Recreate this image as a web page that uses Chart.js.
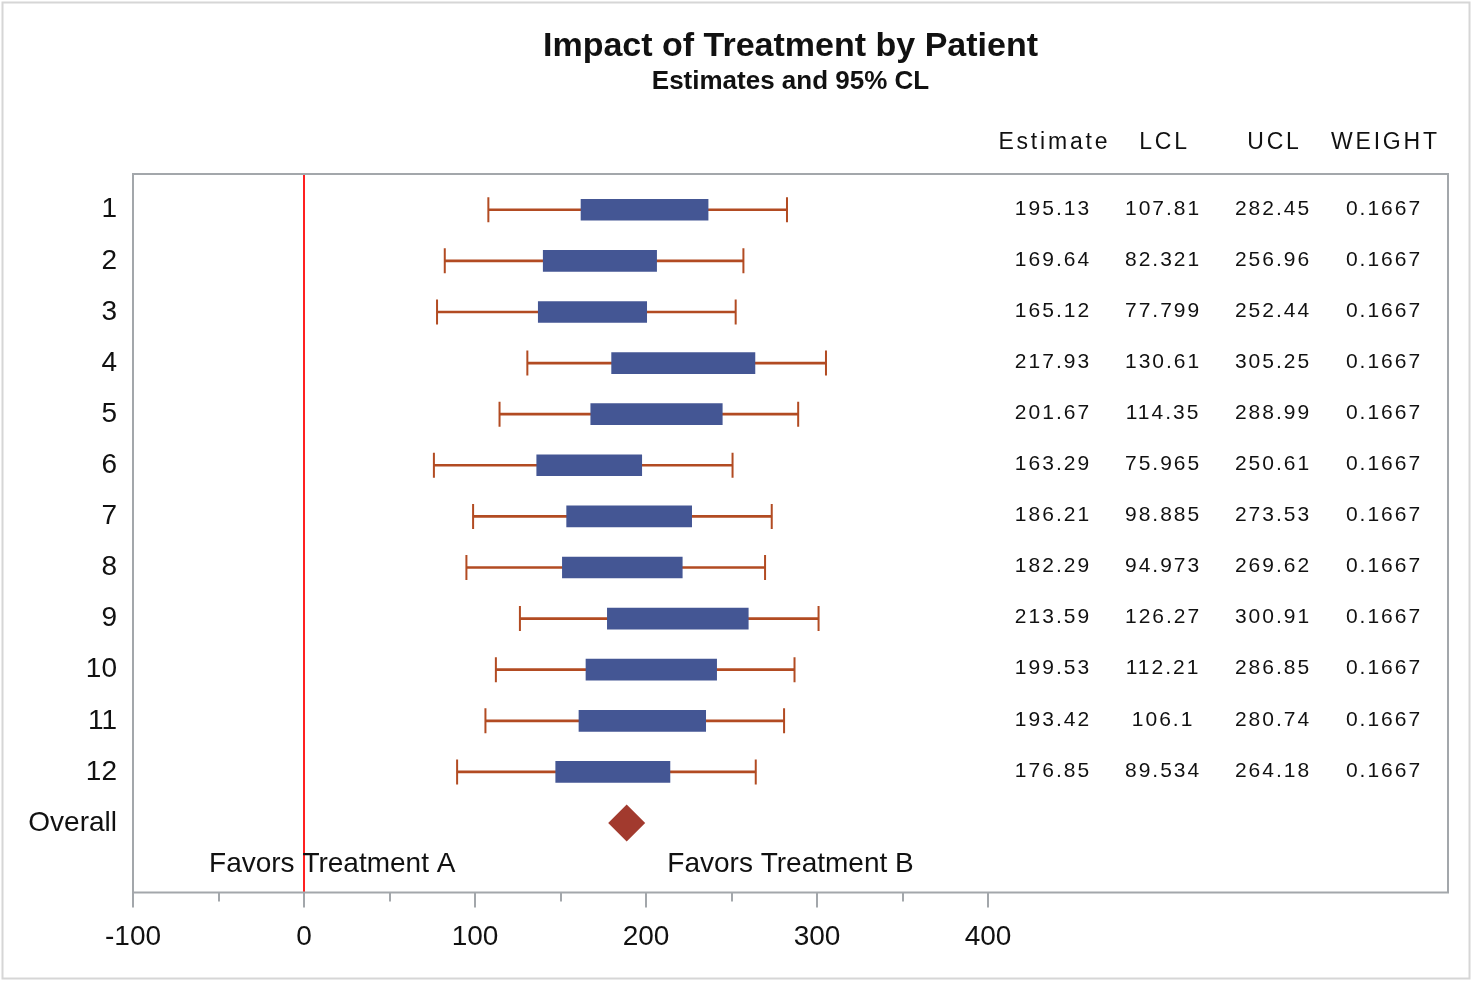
<!DOCTYPE html>
<html>
<head>
<meta charset="utf-8">
<title>Impact of Treatment by Patient</title>
<script src="https://cdn.jsdelivr.net/npm/chart.js@4/dist/chart.umd.min.js"></script>
<style>
  html, body { margin: 0; padding: 0; background: #ffffff; }
  canvas { display: block; }
</style>
</head>
<body>
<canvas id="forest" width="1472" height="981"></canvas>
<script>
// ---- data ----
const patients = ['1', '2', '3', '4', '5', '6', '7', '8', '9', '10', '11', '12'];
const estimate = [195.13, 169.64, 165.12, 217.93, 201.67, 163.29, 186.21, 182.29, 213.59, 199.53, 193.42, 176.85];
const lcl = [107.81, 82.321, 77.799, 130.61, 114.35, 75.965, 98.885, 94.973, 126.27, 112.21, 106.1, 89.534];
const ucl = [282.45, 256.96, 252.44, 305.25, 288.99, 250.61, 273.53, 269.62, 300.91, 286.85, 280.74, 264.18];
const weight = [0.1667, 0.1667, 0.1667, 0.1667, 0.1667, 0.1667, 0.1667, 0.1667, 0.1667, 0.1667, 0.1667, 0.1667];
const boxLow = [162.0, 139.9, 137.0, 179.9, 167.7, 136.1, 153.6, 151.1, 177.4, 164.9, 160.8, 147.2];
const boxHigh = [236.3, 206.2, 200.4, 263.7, 244.6, 197.5, 226.7, 221.2, 259.8, 241.3, 234.9, 214.0];
const overallLabel = 'Overall';
const overallEstimate = 188.72;
const xTickValues = [-100, 0, 100, 200, 300, 400];
const xMinorTickValues = [-50, 50, 150, 250, 350];
const tableHeaders = ['Estimate', 'LCL', 'UCL', 'WEIGHT'];
const favorsLabels = ['Favors Treatment A', 'Favors Treatment B'];
const titleText = 'Impact of Treatment by Patient';
const subtitleText = 'Estimates and 95% CL';

// ---- layout / style ----
const FONT = '"Liberation Sans", Arial, Helvetica, sans-serif';
const TEXT = '#111111';
const FRAME = '#a3a7ab';
const BOX_COLOR = '#445694';
const CI_COLOR = '#b24b22';
const DIAMOND_COLOR = '#a23a2e';
const REF_COLOR = '#ff2020';

const rowLabels = patients.concat([overallLabel]);
const rowPos = rowLabels.map((_, i) => i + 1);
const overallRow = rowPos[rowPos.length - 1];
const tableColumnsX = [437.4, 501.8, 566.1, 631.0];   // x-scale positions of the statistics columns
const favorsX = [16.5, 284.5];                        // x-scale centres of the favors captions
const favorsRow = 13.81;                              // y-scale position of the favors captions

const tableColumns = [estimate, lcl, ucl, weight];

function drawText(ctx, str, x, y, font, align, spacing) {
  ctx.save();
  ctx.font = font;
  ctx.fillStyle = TEXT;
  ctx.textBaseline = 'middle';
  if (spacing) {
    ctx.letterSpacing = spacing + 'px';
    ctx.textAlign = 'left';
    const w = ctx.measureText(str).width - spacing;
    let x0 = x;
    if (align === 'center') x0 = x - w / 2;
    else if (align === 'right') x0 = x - w;
    ctx.fillText(str, x0, y);
  } else {
    ctx.textAlign = align;
    ctx.fillText(str, x, y);
  }
  ctx.restore();
}

const forestDecor = {
  id: 'forestDecor',
  beforeDraw(chart) {
    const ctx = chart.ctx;
    ctx.save();
    ctx.fillStyle = '#ffffff';
    ctx.fillRect(0, 0, chart.width, chart.height);
    ctx.strokeStyle = '#d6d6d6';
    ctx.lineWidth = 2;
    ctx.strokeRect(2.5, 2.5, chart.width - 5, chart.height - 5);
    ctx.restore();
  },
  beforeDatasetsDraw(chart) {
    const { ctx, chartArea: a, scales: { x } } = chart;
    const px = x.getPixelForValue(0);
    ctx.save();
    ctx.strokeStyle = REF_COLOR;
    ctx.lineWidth = 2;
    ctx.beginPath();
    ctx.moveTo(px, a.top);
    ctx.lineTo(px, a.bottom);
    ctx.stroke();
    ctx.restore();
  },
  afterDatasetsDraw(chart) {
    const { ctx, chartArea: a, scales: { x, y } } = chart;

    // plot frame
    ctx.save();
    ctx.strokeStyle = FRAME;
    ctx.lineWidth = 2;
    ctx.strokeRect(a.left, a.top, a.right - a.left, a.bottom - a.top);
    // minor ticks on the x axis
    ctx.beginPath();
    xMinorTickValues.forEach(v => {
      const px = Math.round(x.getPixelForValue(v));
      ctx.moveTo(px, a.bottom);
      ctx.lineTo(px, a.bottom + 9);
    });
    ctx.stroke();
    ctx.restore();

    // statistics table
    const valueFont = '21px ' + FONT;
    tableColumns.forEach((col, c) => {
      const cx = x.getPixelForValue(tableColumnsX[c]);
      col.forEach((v, i) => {
        drawText(ctx, String(v), cx, y.getPixelForValue(rowPos[i]) - 1, valueFont, 'center', 2);
      });
      drawText(ctx, tableHeaders[c], cx + 1, a.top - 31, '23px ' + FONT, 'center', 2.8);
    });

    // favors captions
    favorsLabels.forEach((t, i) => {
      drawText(ctx, t, x.getPixelForValue(favorsX[i]), y.getPixelForValue(favorsRow), '28px ' + FONT, 'center', 0);
    });

    // titles, centred over the plot area
    const cx = (a.left + a.right) / 2;
    drawText(ctx, titleText, cx, 47, 'bold 34px ' + FONT, 'center', 0);
    drawText(ctx, subtitleText, cx, 82, 'bold 26px ' + FONT, 'center', 0);
  }
};

new Chart(document.getElementById('forest'), {
  type: 'bar',
  data: {
    datasets: [
      {
        type: 'scatter',
        label: overallLabel,
        data: [{ x: overallEstimate, y: overallRow }],
        pointStyle: 'rectRot',
        radius: 18.5,
        backgroundColor: DIAMOND_COLOR,
        borderWidth: 0,
        order: 0
      },
      {
        type: 'bar',
        label: 'Box',
        indexAxis: 'y',
        grouped: false,
        data: patients.map((p, i) => ({ y: rowPos[i], x: [boxLow[i], boxHigh[i]] })),
        backgroundColor: BOX_COLOR,
        borderWidth: 0,
        barThickness: 21,
        order: 1
      },
      {
        type: 'scatter',
        label: 'Limits',
        data: patients.flatMap((p, i) => [
          { x: lcl[i], y: rowPos[i] },
          { x: ucl[i], y: rowPos[i] }
        ]),
        pointStyle: 'line',
        rotation: 90,
        radius: 12.5,
        borderColor: CI_COLOR,
        borderWidth: 2,
        order: 2
      },
      {
        type: 'bar',
        label: '95% CL',
        indexAxis: 'y',
        grouped: false,
        data: patients.map((p, i) => ({ y: rowPos[i], x: [lcl[i], ucl[i]] })),
        backgroundColor: CI_COLOR,
        borderWidth: 0,
        barThickness: 2,
        order: 3
      }
    ]
  },
  options: {
    responsive: false,
    animation: false,
    indexAxis: 'y',
    layout: { padding: { top: 174, right: 24, left: 0, bottom: 0 } },
    plugins: {
      legend: { display: false },
      tooltip: { enabled: false },
      title: { display: false }
    },
    scales: {
      x: {
        type: 'linear',
        position: 'bottom',
        min: -100,
        max: 669,
        offset: false,
        afterBuildTicks: s => { s.ticks = xTickValues.map(v => ({ value: v })); },
        afterFit: s => { s.height = 88.5; },
        grid: { display: true, offset: false, drawOnChartArea: false, drawTicks: true, tickLength: 15, color: FRAME, lineWidth: 2 },
        border: { display: false },
        ticks: {
          autoSkip: false,
          maxRotation: 0,
          padding: 13,
          color: TEXT,
          font: { family: FONT, size: 28 },
          callback: v => String(v)
        }
      },
      y: {
        type: 'linear',
        position: 'left',
        reverse: true,
        offset: false,
        min: 0.30,
        max: 14.36,
        afterBuildTicks: s => { s.ticks = rowPos.map(v => ({ value: v })); },
        afterFit: s => { s.width = 133; },
        grid: { display: false, offset: false, drawTicks: false },
        border: { display: false },
        ticks: {
          autoSkip: false,
          padding: 16,
          color: TEXT,
          font: { family: FONT, size: 28 },
          callback: v => rowLabels[Math.round(v) - 1]
        }
      }
    }
  },
  plugins: [forestDecor]
});
</script>
</body>
</html>
